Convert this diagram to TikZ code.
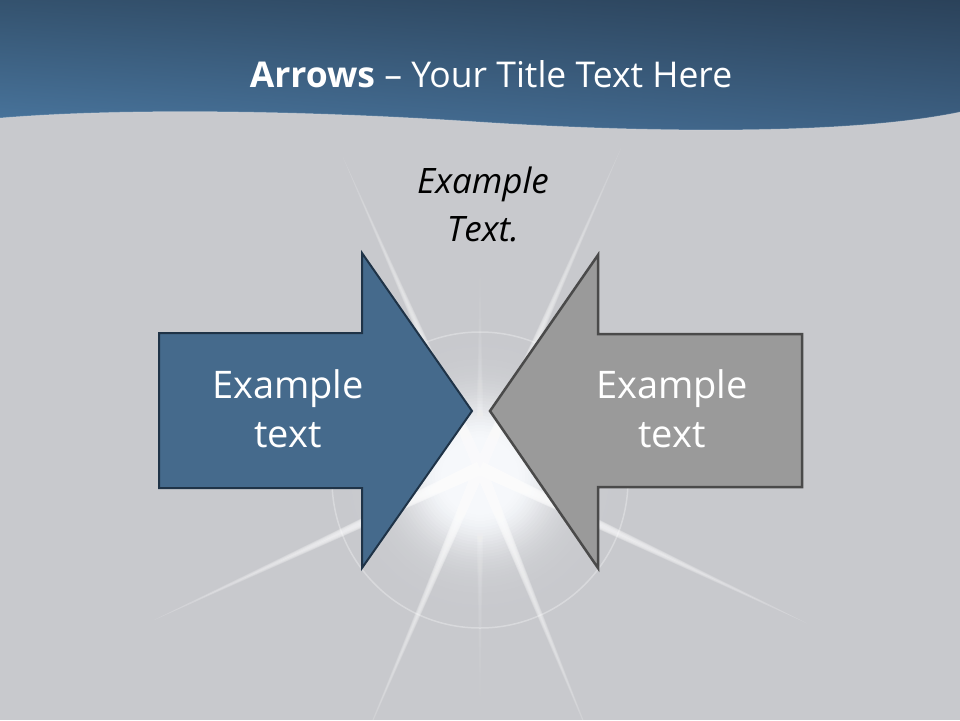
\documentclass[tikz,border=0pt]{standalone}
\usepackage{fontspec}
\setmainfont{Open Sans}
\usetikzlibrary{calc,shadings}
\definecolor{bg}{HTML}{C8C9CD}
\definecolor{glowwhite}{HTML}{F6F8FB}
\definecolor{arrowblue}{HTML}{456A8C}
\definecolor{arrowblueline}{HTML}{1F3347}
\definecolor{arrowgray}{HTML}{9A9A9A}
\definecolor{arrowgrayline}{HTML}{4A4A4A}
\definecolor{hdrUL}{HTML}{34526E}
\definecolor{hdrLL}{HTML}{4A77A0}
\definecolor{hdrUR}{HTML}{2B425A}
\definecolor{hdrLR}{HTML}{3E6285}
\tikzset{
  arrowshape/.style={line width=2pt, line join=miter},
  bluearrow/.style={arrowshape, fill=arrowblue, draw=arrowblueline},
  grayarrow/.style={arrowshape, line width=2.5pt, fill=arrowgray, draw=arrowgrayline},
  arrowtext/.style={text=white, anchor=base, inner sep=0pt, font=\fontsize{38}{49}\selectfont},
  toptext/.style={text=black, anchor=base, inner sep=0pt, font=\fontsize{35}{48}\selectfont\itshape},
  titletext/.style={text=white, anchor=base, inner sep=0pt, font=\fontsize{35.5}{44}\selectfont},
  raystyle/.style={fill=white}
}
\begin{document}
\begin{tikzpicture}[x=1pt,y=-1pt]
\useasboundingbox (0,0) rectangle (960,720);
\clip (0,0) rectangle (960,720);
\fill[bg] (0,0) rectangle (960,720);
\coordinate (c) at (480,476);
\coordinate (rc) at (480,468);
% glow: opaque concentric discs blending from background to white
\foreach \r in {135,132,...,3}{
  \pgfmathsetmacro\q{max(\r-35,0)/45}
  \pgfmathsetmacro\p{100*exp(-\q*\q)}
  \fill[glowwhite!\p!bg] (c) circle (\r pt);
}
% rays
\foreach \a/\L/\w/\o in {155/360/7/0.2, 25.4/362/7/0.2, 113/300/6/0.17, 67.8/300/6/0.17, 246.2/340/6/0.16, 293.8/350/6/0.16, 90/240/5/0.05, 270/200/5/0.05}{
  \foreach \k in {1,...,8}{
    \fill[raystyle, opacity=\o] ($(rc)+(\a+90:\w)$) -- ($(rc)+(\a:\L*\k/8)$) -- ($(rc)+(\a-90:\w)$) -- cycle;
  }
}
% ring
\draw[white, opacity=0.3, line width=1.5pt] (480,480) circle (148pt);
% header
\shade[upper left=hdrUL, lower left=hdrLL, upper right=hdrUR, lower right=hdrLR]
  (0,0) -- (960,0) -- (960,112) .. controls (850,135) and (650,133) .. (480,122)
  .. controls (300,110) and (120,108) .. (0,118) -- cycle;
\draw[white, opacity=0.2, line width=1pt] (960,112) .. controls (850,135) and (650,133) .. (480,122)
  .. controls (300,110) and (120,108) .. (0,118);
\node[titletext] (title) at (491,87) {\textbf{Arrows} – Your Title Text Here};
% arrows
\draw[bluearrow] (159,333) -- (362,333) -- (362,253) -- (472,411) -- (362,568) -- (362,488) -- (159,488) -- cycle;
\draw[grayarrow] (802,334) -- (598,334) -- (598,255) -- (490,411) -- (598,568) -- (598,487) -- (802,487) -- cycle;
% texts
\node[arrowtext] (lt1) at (288,398) {Example};
\node[arrowtext] (lt2) at (288,447) {text};
\node[arrowtext] (rt1) at (672,398) {Example};
\node[arrowtext] (rt2) at (672,447) {text};
\node[toptext] (tt1) at (483,193) {Example};
\node[toptext] (tt2) at (483,241) {Text.};
\end{tikzpicture}
\end{document}
